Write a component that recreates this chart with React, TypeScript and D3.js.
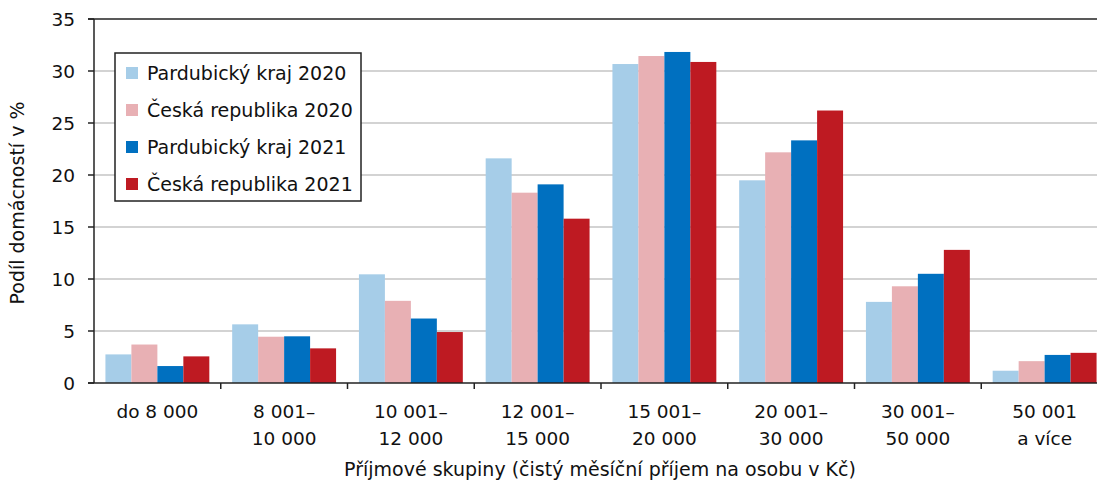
import * as d3 from 'd3';
import React, { useEffect, useRef } from 'react';

const categories = [
    ['do 8 000'],
    ['8 001–', '10 000'],
    ['10 001–', '12 000'],
    ['12 001–', '15 000'],
    ['15 001–', '20 000'],
    ['20 001–', '30 000'],
    ['30 001–', '50 000'],
    ['50 001', 'a více'],
];

const seriesNames = [
    'Pardubický kraj 2020',
    'Česká republika 2020',
    'Pardubický kraj 2021',
    'Česká republika 2021',
];
const seriesColors = ['#a6cde8', '#e8b0b4', '#0070c0', '#be1a22'];

const pardubice2020 = [2.75, 5.64, 10.45, 21.6, 30.67, 19.49, 7.8, 1.18];
const cr2020 = [3.7, 4.45, 7.9, 18.3, 31.44, 22.18, 9.3, 2.1];
const pardubice2021 = [1.63, 4.49, 6.2, 19.1, 31.83, 23.33, 10.5, 2.7];
const cr2021 = [2.56, 3.33, 4.9, 15.8, 30.87, 26.2, 12.8, 2.9];
const seriesValues = [pardubice2020, cr2020, pardubice2021, cr2021];

const yTicks = [0, 5, 10, 15, 20, 25, 30, 35];

const yTitle = 'Podíl domácností v %';
const xTitle = 'Příjmové skupiny (čistý měsíční příjem na osobu v Kč)';

const W = 1097;
const H = 481;
const FONT = "'DejaVu Sans', Verdana, sans-serif";

const App: React.FC = () => {
    const svgRef = useRef<SVGSVGElement | null>(null);

    useEffect(() => {
        if (!svgRef.current) return;
        const svg = d3.select(svgRef.current);
        svg.selectAll('*').remove();

        const left = 94;
        const right = 1108;
        const top = 19;
        const bottom = 383;

        const keys = categories.map((c) => c.join(' '));
        const x = d3.scaleBand().domain(keys).range([left, right]).padding(0);
        const inner = d3
            .scaleBand()
            .domain(seriesNames)
            .range([0, x.bandwidth()])
            .paddingInner(0)
            .paddingOuter(0.44);
        const y = d3.scaleLinear().domain([0, 35]).range([bottom, top]);

        // gridlines
        svg.append('g')
            .selectAll('line')
            .data(yTicks.filter((t) => t > 0 && t < 35))
            .join('line')
            .attr('x1', left)
            .attr('x2', W)
            .attr('y1', (d) => y(d))
            .attr('y2', (d) => y(d))
            .attr('stroke', '#c4c4c4')
            .attr('stroke-width', 1.5);

        // bars
        seriesValues.forEach((vals, si) => {
            svg.append('g')
                .selectAll('rect')
                .data(vals)
                .join('rect')
                .attr('x', (_, i) => (x(keys[i]) as number) + (inner(seriesNames[si]) as number))
                .attr('width', inner.bandwidth())
                .attr('y', (d) => y(d))
                .attr('height', (d) => y(0) - y(d))
                .attr('fill', seriesColors[si]);
        });

        // top border
        svg.append('line')
            .attr('x1', left - 6)
            .attr('x2', W)
            .attr('y1', y(35))
            .attr('y2', y(35))
            .attr('stroke', '#222')
            .attr('stroke-width', 1.5);

        // y axis
        const yAxis = svg.append('g');
        yAxis.append('line')
            .attr('x1', left)
            .attr('x2', left)
            .attr('y1', y(35))
            .attr('y2', y(0))
            .attr('stroke', '#222')
            .attr('stroke-width', 1.5);
        yTicks.forEach((t) => {
            yAxis.append('line')
                .attr('x1', left - 6)
                .attr('x2', left)
                .attr('y1', y(t))
                .attr('y2', y(t))
                .attr('stroke', '#222')
                .attr('stroke-width', 1.5);
            yAxis.append('text')
                .attr('x', 75)
                .attr('y', y(t))
                .attr('dy', '0.36em')
                .attr('text-anchor', 'end')
                .attr('font-family', FONT)
                .attr('font-size', 18.5)
                .attr('fill', '#111')
                .text(t);
        });

        // x axis
        const xAxis = svg.append('g');
        xAxis.append('line')
            .attr('x1', left - 6)
            .attr('x2', W)
            .attr('y1', y(0))
            .attr('y2', y(0))
            .attr('stroke', '#222')
            .attr('stroke-width', 1.5);
        keys.forEach((k, i) => {
            const bx = x(k) as number;
            if (i > 0) {
                xAxis.append('line')
                    .attr('x1', bx)
                    .attr('x2', bx)
                    .attr('y1', y(0))
                    .attr('y2', y(0) + 6)
                    .attr('stroke', '#222')
                    .attr('stroke-width', 1.5);
            }
            const t = xAxis.append('text')
                .attr('text-anchor', 'middle')
                .attr('font-family', FONT)
                .attr('font-size', 18.5)
                .attr('fill', '#111');
            categories[i].forEach((line, li) => {
                t.append('tspan')
                    .attr('x', bx + x.bandwidth() / 2)
                    .attr('y', 418 + li * 27)
                    .text(line);
            });
        });

        // axis titles
        svg.append('text')
            .attr('transform', 'translate(24,203) rotate(-90)')
            .attr('text-anchor', 'middle')
            .attr('font-family', FONT)
            .attr('font-size', 19)
            .attr('fill', '#111')
            .text(yTitle);
        svg.append('text')
            .attr('x', 600)
            .attr('y', 476)
            .attr('text-anchor', 'middle')
            .attr('font-family', FONT)
            .attr('font-size', 19)
            .attr('fill', '#111')
            .text(xTitle);

        // legend
        const lg = svg.append('g');
        lg.append('rect')
            .attr('x', 115)
            .attr('y', 53)
            .attr('width', 246)
            .attr('height', 148)
            .attr('fill', '#fff')
            .attr('stroke', '#222')
            .attr('stroke-width', 1.5);
        seriesNames.forEach((name, i) => {
            const cy = 73 + i * 37;
            lg.append('rect')
                .attr('x', 126)
                .attr('y', cy - 6)
                .attr('width', 12)
                .attr('height', 12)
                .attr('fill', seriesColors[i]);
            lg.append('text')
                .attr('x', 147)
                .attr('y', cy)
                .attr('dy', '0.36em')
                .attr('font-family', FONT)
                .attr('font-size', 19)
                .attr('fill', '#111')
                .text(name);
        });
    }, []);

    return (
        <svg
            ref={svgRef}
            width={W}
            height={H}
            style={{ position: 'absolute', left: 0, top: 0, background: '#fff' }}
        />
    );
};

export default App;
